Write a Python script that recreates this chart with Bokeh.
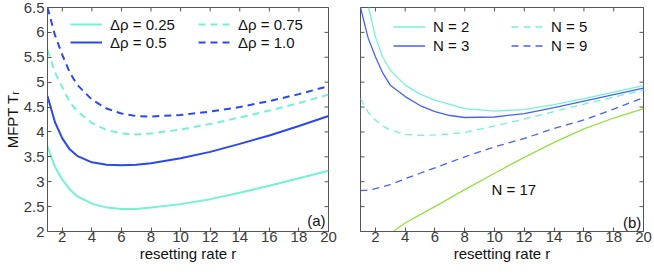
from bokeh.plotting import figure
from bokeh.models import Legend, LegendItem, FixedTicker, Label, Range1d
from bokeh.layouts import row
from bokeh.embed import file_html
from bokeh.resources import INLINE
import math

# ---------------- data ----------------
r_a = [1, 1.5, 2, 2.5, 3, 4, 5, 6, 7, 8, 10, 12, 14, 16, 18, 20]
T_drho_025 = [3.71, 3.30, 3.04, 2.85, 2.71, 2.56, 2.48, 2.45, 2.45, 2.48, 2.55, 2.65, 2.78, 2.92, 3.07, 3.22]
T_drho_05 = [4.72, 4.20, 3.87, 3.65, 3.52, 3.39, 3.34, 3.33, 3.34, 3.37, 3.47, 3.60, 3.76, 3.93, 4.12, 4.32]
T_drho_075 = [5.65, 5.20, 4.90, 4.60, 4.42, 4.18, 4.04, 3.97, 3.95, 3.97, 4.05, 4.16, 4.29, 4.43, 4.58, 4.75]
T_drho_10 = [6.50, 5.95, 5.55, 5.20, 4.95, 4.65, 4.47, 4.37, 4.32, 4.31, 4.34, 4.41, 4.50, 4.62, 4.76, 4.92]

r_N2 = [1.55, 2, 2.5, 3, 4, 5, 6, 8, 10, 12, 14, 16, 18, 20]
T_N2 = [6.50, 5.91, 5.50, 5.24, 4.94, 4.76, 4.64, 4.47, 4.42, 4.45, 4.55, 4.67, 4.80, 4.93]
r_b = [1, 1.5, 2, 2.5, 3, 4, 5, 6, 7, 8, 10, 12, 14, 16, 18, 20]
T_N3 = [6.50, 5.90, 5.51, 5.18, 4.94, 4.71, 4.53, 4.41, 4.33, 4.29, 4.30, 4.37, 4.49, 4.62, 4.75, 4.88]
T_N5 = [4.67, 4.40, 4.24, 4.12, 4.04, 3.95, 3.93, 3.94, 3.96, 3.99, 4.12, 4.26, 4.41, 4.56, 4.70, 4.84]
T_N9 = [2.82, 2.83, 2.86, 2.90, 2.94, 3.06, 3.17, 3.28, 3.39, 3.50, 3.70, 3.87, 4.07, 4.24, 4.46, 4.69]
r_N17 = [3.2, 4, 5, 6, 7, 8, 10, 12, 14, 16, 18, 20]
T_N17 = [2.00, 2.17, 2.34, 2.50, 2.67, 2.84, 3.17, 3.49, 3.79, 4.06, 4.28, 4.47]

x_min, x_max = 1, 20
y_min, y_max = 2, 6.5
x_ticks = [2, 4, 6, 8, 10, 12, 14, 16, 18, 20]
y_ticks = [2, 2.5, 3, 3.5, 4, 4.5, 5, 5.5, 6, 6.5]
y_tick_labels = ["2", "2.5", "3", "3.5", "4", "4.5", "5", "5.5", "6", "6.5"]

labels_a = ["Δρ = 0.25", "Δρ = 0.5", "Δρ = 0.75", "Δρ = 1.0"]
labels_b = ["N = 2", "N = 3", "N = 5", "N = 9"]

FONT = "Liberation Sans"
FS = "15px"
AQUA = "#74f3d3"
BLUE = "#2a48f0"
BLUE_B = "#4563f2"
GREEN = "#92e040"
FRAME = "#555555"
TXT = "#3a3a3a"


def mirror_ticks(p, left_ticks):
    # inward tick marks on the top / right (and optionally left) edges of the frame
    p.scatter(x_ticks, [y_max] * len(x_ticks), marker="dash", angle=math.pi / 2, size=8,
              line_color=FRAME, line_width=1)
    p.scatter([x_max] * len(y_ticks), y_ticks, marker="dash", size=8,
              line_color=FRAME, line_width=1)
    if left_ticks:
        p.scatter([x_min] * len(y_ticks), y_ticks, marker="dash", size=8,
                  line_color=FRAME, line_width=1)


def make_fig(frame_w, left, right, show_yaxis):
    p = figure(frame_width=frame_w, frame_height=224, output_backend="svg",
               toolbar_location=None, x_range=Range1d(x_min, x_max), y_range=Range1d(y_min, y_max),
               min_border_left=left, min_border_right=right, min_border_top=7,
               min_border_bottom=0)
    p.grid.visible = False
    p.background_fill_color = "white"
    p.outline_line_color = FRAME
    p.outline_line_width = 1
    for ax in (p.xaxis[0], p.yaxis[0]):
        ax.major_tick_in = 4
        ax.major_tick_out = 0
        ax.minor_tick_line_color = None
        ax.axis_line_color = FRAME
        ax.major_tick_line_color = FRAME
        ax.major_label_text_font = FONT
        ax.major_label_text_font_size = FS
        ax.major_label_text_color = TXT
        ax.axis_label_text_font = FONT
        ax.axis_label_text_font_size = FS
        ax.axis_label_text_font_style = "normal"
        ax.axis_label_text_color = "#111111"
    p.xaxis.ticker = FixedTicker(ticks=x_ticks)
    p.yaxis.ticker = FixedTicker(ticks=y_ticks)
    p.xaxis.major_label_standoff = 0
    p.xaxis.axis_label_standoff = 0
    p.xaxis.axis_label = "resetting rate r"
    if show_yaxis:
        p.yaxis.major_label_overrides = {t: s for t, s in zip(y_ticks, y_tick_labels)}
        p.yaxis.major_label_standoff = 3
        p.yaxis.axis_label_standoff = 0
        p.yaxis.axis_label = "MFPT Tᵣ"
    else:
        p.yaxis.visible = False
    mirror_ticks(p, not show_yaxis)
    return p


# ---------------- panel (a) ----------------
pa = make_fig(281, 45, 12, True)
la1 = pa.line(r_a, T_drho_025, line_color=AQUA, line_width=2)
la2 = pa.line(r_a, T_drho_05, line_color=BLUE, line_width=2)
la3 = pa.line(r_a, T_drho_075, line_color=AQUA, line_width=2, line_dash="7 5")
la4 = pa.line(r_a, T_drho_10, line_color=BLUE, line_width=2, line_dash="7 5")
leg_a = Legend(items=[LegendItem(label=labels_a[i], renderers=[g]) for i, g in enumerate([la1, la2, la3, la4])],
               location=(23, 180), ncols=2, orientation="vertical",
               glyph_width=32, glyph_height=18, label_height=18, label_width=88,
               label_standoff=8, spacing=0, padding=0, margin=0,
               border_line_color=None, background_fill_alpha=0,
               label_text_font=FONT, label_text_font_size=FS, label_text_color="#111111")
pa.add_layout(leg_a)
pa.add_layout(Label(x=19.8, y=2.22, text="(a)", text_align="right", text_baseline="middle",
                    text_font=FONT, text_font_size=FS, text_color="#111111"))

# ---------------- panel (b) ----------------
pb = make_fig(283, 20, 10, False)
lb1 = pb.line(r_N2, T_N2, line_color=AQUA, line_width=1.3)
lb2 = pb.line(r_b, T_N3, line_color=BLUE_B, line_width=1.3)
lb3 = pb.line(r_b, T_N5, line_color=AQUA, line_width=1.3, line_dash="7 5")
lb4 = pb.line(r_b, T_N9, line_color=BLUE_B, line_width=1.3, line_dash="7 5")
pb.line(r_N17, T_N17, line_color=GREEN, line_width=1.3)
leg_b = Legend(items=[LegendItem(label=labels_b[i], renderers=[g]) for i, g in enumerate([lb1, lb2, lb3, lb4])],
               location=(33, 176), ncols=2, orientation="vertical",
               glyph_width=32, glyph_height=19, label_height=19, label_width=78,
               label_standoff=8, spacing=0, padding=0, margin=0,
               border_line_color=None, background_fill_alpha=0,
               label_text_font=FONT, label_text_font_size=FS, label_text_color="#111111")
pb.add_layout(leg_b)
pb.add_layout(Label(x=9.8, y=2.84, text="N = 17", text_align="left", text_baseline="middle",
                    text_font=FONT, text_font_size=FS, text_color="#111111"))
pb.add_layout(Label(x=19.85, y=2.18, text="(b)", text_align="right", text_baseline="middle",
                    text_font=FONT, text_font_size=FS, text_color="#111111"))

layout = row(pa, pb, spacing=0)
open("out.html", "w").write(file_html(layout, INLINE))
